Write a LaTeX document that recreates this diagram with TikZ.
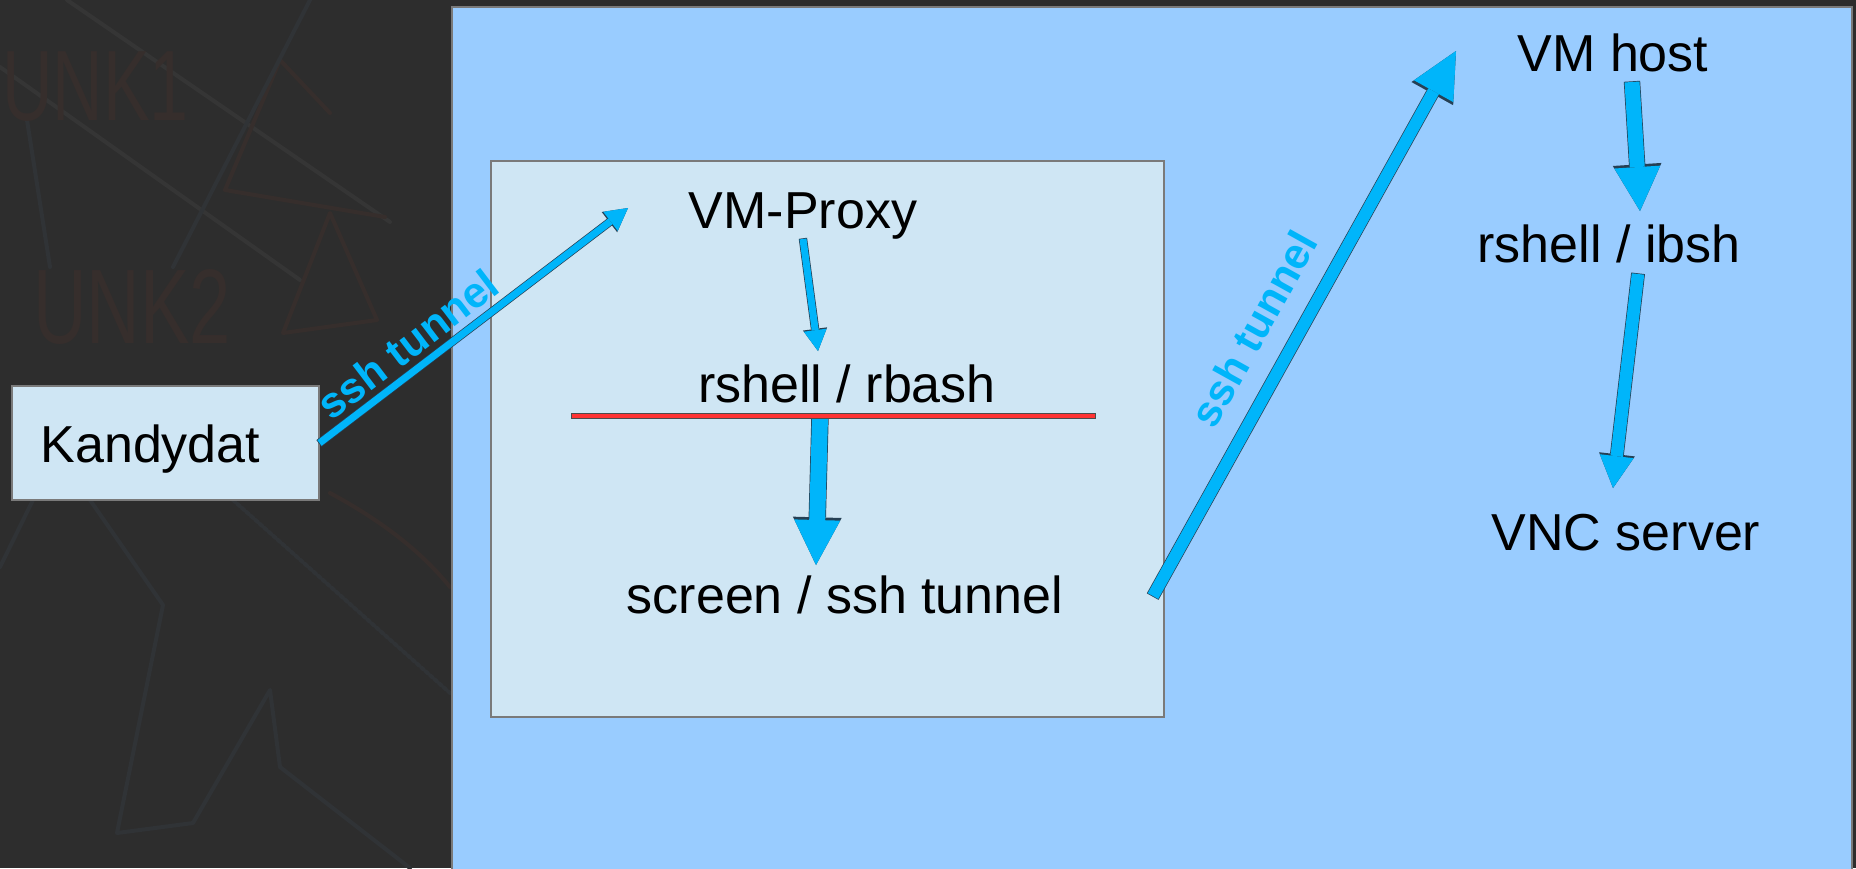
\documentclass[tikz,border=0pt]{standalone}
\usepackage{fontspec}
\setmainfont{Liberation Sans}
\usetikzlibrary{arrows.meta}

\definecolor{bgdark}{RGB}{45,45,45}
\definecolor{hostblue}{RGB}{153,204,255}
\definecolor{boxblue}{RGB}{207,230,244}
\definecolor{framegray}{RGB}{122,122,122}
\definecolor{tunnel}{RGB}{0,181,250}
\definecolor{arrowedge}{RGB}{38,64,84}
\definecolor{cutred}{RGB}{255,51,51}
\definecolor{faintgray}{RGB}{53,53,53}
\definecolor{faintbrown}{RGB}{54,46,44}
\definecolor{faintblue}{RGB}{48,51,54}

\tikzset{
  label text/.style={font=\fontsize{52}{60}\selectfont, inner sep=0pt, anchor=base},
  tunnel text/.style={font=\fontsize{43}{50}\selectfont\bfseries, text=tunnel, sloped, above},
  panel/.style={draw=framegray, line width=2pt},
  blockarrow/.style n args={3}{
    draw=tunnel, line width=#1,
    -{Triangle[width=#2, length=#3, line width=0pt]},
    preaction={draw=arrowedge, line width=#1+1.4pt, shorten <=-0.7pt,
      -{Triangle[width=#2, length=#3, line width=0pt, scale=1.06]}}
  },
  sketch/.style={line width=4pt, line join=round, line cap=round},
  sketch text/.style={font=\fontsize{106}{110}\selectfont, text=faintbrown, inner sep=0pt, anchor=base west},
}

\begin{document}
\begin{tikzpicture}[x=1pt, y=-1pt]
\useasboundingbox (0,0) rectangle (1856,868);
\fill[bgdark] (0,0) rectangle (1856,868);

% faint sketch on the dark backdrop
\draw[sketch, faintgray] (67,0) -- (390,222);
\draw[sketch, faintgray] (0,67) -- (300,280);
\draw[sketch, faintbrown] (280,60) -- (225,190) -- (385,217);
\draw[sketch, faintbrown] (280,60) -- (330,113);
\draw[sketch, faintbrown] (330,213) -- (283,333) -- (377,320) -- cycle;
\draw[sketch, faintbrown] (330,493) .. controls (380,520) and (420,550) .. (450,587);
\draw[sketch, faintblue] (0,567) -- (33,500);
\draw[sketch, faintblue] (90,500) -- (163,605) -- (117,833) -- (193,823) -- (270,690) -- (280,767) -- (410,868);
\draw[sketch, faintblue, dashed] (233,500) -- (450,693);
\draw[sketch, faintblue] (310,0) -- (173,267);
\draw[sketch, faintblue] (27,120) -- (50,267);
\node[sketch text, font=\fontsize{100}{104}\selectfont] (unkone) at (2,120) {\scalebox{0.7}[1]{UNK1}};
\node[sketch text] (unktwo) at (33,343) {\scalebox{0.7}[1]{UNK2}};

% host area and proxy box
\draw[panel, fill=hostblue] (452,7) rectangle (1852,880);
\node[panel, fill=boxblue, minimum width=673pt, minimum height=556pt, inner sep=0pt] (proxybox) at (827.5,439) {};

% candidate box
\node[panel, fill=boxblue, minimum width=307pt, minimum height=114pt,
      text width=249pt, inner xsep=29pt, inner ysep=0pt, align=left,
      font=\fontsize{52}{60}\selectfont, text height=40pt, text depth=2pt] (kandydat) at (165,443) {Kandydat};

% labels
\node[label text] (vmproxy) at (803,228) {VM-Proxy};
\node[label text] (rbash) at (847,402) {rshell / rbash};
\node[label text] (screen) at (845,613) {screen / ssh tunnel};
\node[label text] (vmhost) at (1613,71) {VM host};
\node[label text] (ibsh) at (1609,262) {rshell / ibsh};
\node[label text] (vnc) at (1626,550) {VNC server};

% arrow end points
\coordinate (proxyin) at (628,208);
\coordinate (rbashin) at (818,351);
\coordinate (cutmid) at (820,417);
\coordinate (screenin) at (816,565);
\coordinate (screenout) at (1153,596);
\coordinate (hostin) at (1456,51);
\coordinate (hostout) at (1632,82);
\coordinate (ibshin) at (1640,211);
\coordinate (ibshout) at (1638,274);
\coordinate (vncin) at (1613,488);
\coordinate (cutL) at (572,416);
\coordinate (cutR) at (1095,416);

% connectors
\draw[blockarrow={7pt}{24pt}{22pt}] (kandydat.east) -- (proxyin)
  node[tunnel text, pos=0.335, inner sep=6pt] (tunnelone) {ssh tunnel};
\draw[blockarrow={7pt}{23pt}{21pt}] (vmproxy.south) -- (rbashin);
\draw[blockarrow={16pt}{46pt}{45pt}] (cutmid) -- (screenin);
\draw[blockarrow={12pt}{45pt}{46pt}] (screenout) -- (hostin)
  node[tunnel text, pos=0.453, inner sep=20pt] (tunneltwo) {ssh tunnel};
\draw[blockarrow={15pt}{46pt}{44pt}] (hostout) -- (ibshin);
\draw[blockarrow={12.5pt}{34pt}{32pt}] (ibshout) -- (vncin);

% restriction line
\draw[line width=4pt, cutred, preaction={draw=black!70, line width=5.6pt, shorten <=-0.8pt, shorten >=-0.8pt}] (cutL) -- (cutR);
\end{tikzpicture}
\end{document}
